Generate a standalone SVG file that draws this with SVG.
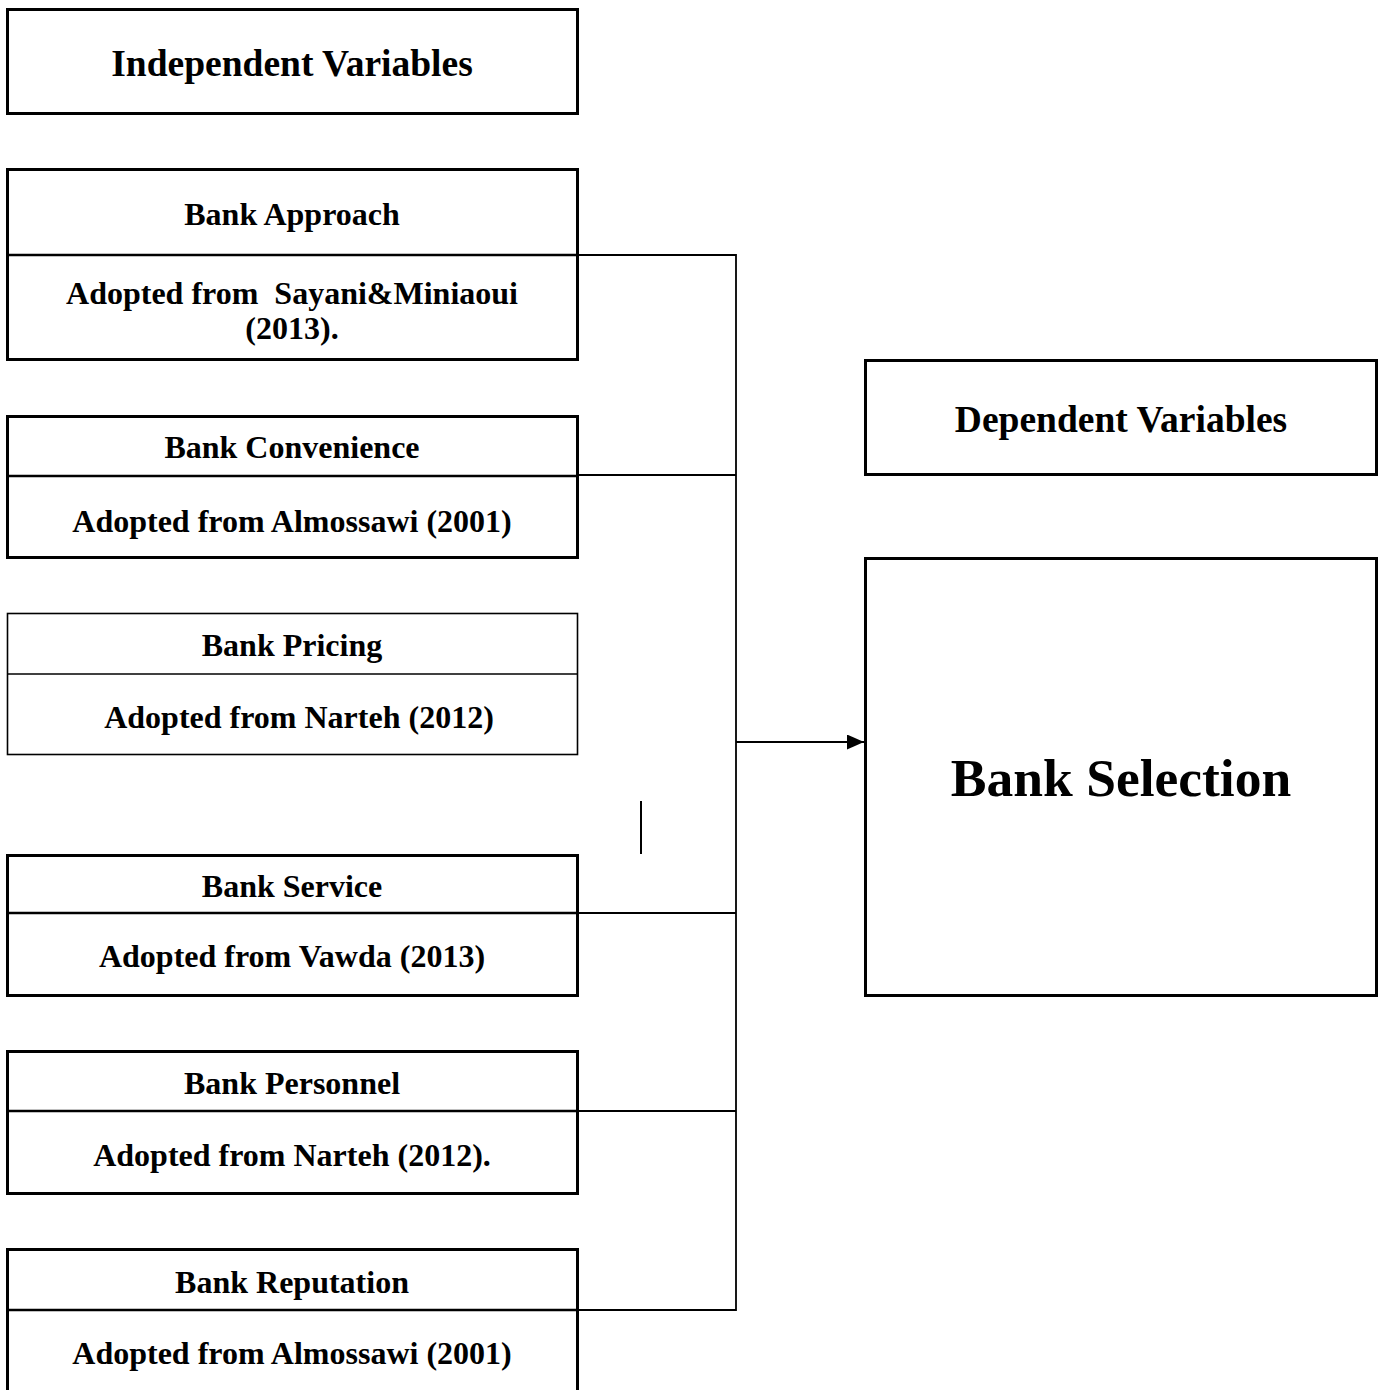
<svg xmlns="http://www.w3.org/2000/svg" width="1384" height="1390" viewBox="0 0 1384 1390">
<style>
text{font-family:"Liberation Serif","Times New Roman",serif;font-weight:bold;fill:#000;text-anchor:middle}
.box{fill:#fff;stroke:#000;stroke-width:3}
.thin{fill:#fff;stroke:#000;stroke-width:1.6}
.div{stroke:#000;stroke-width:2.5}
.conn{fill:none;stroke:#000;stroke-width:1.8}
.h{font-size:37.5px}
.s{font-size:32px}
.big{font-size:53.5px}
</style>
<defs>
<marker id="arr" viewBox="0 0 10 10" refX="10" refY="5" markerWidth="17" markerHeight="15" markerUnits="userSpaceOnUse" orient="auto" preserveAspectRatio="none"><path d="M0,0 L10,5 L0,10 z" fill="#000"/></marker>
</defs>
<rect width="1384" height="1390" fill="#fff"/>
<g id="connectors">
<path class="conn" d="M578,255 H736 V1310 H578"/>
<path class="conn" d="M578,475 H736"/>
<path class="conn" d="M578,913 H736"/>
<path class="conn" d="M578,1111 H736"/>
<path class="conn" d="M736,742 H864" marker-end="url(#arr)"/>
<line x1="641" y1="801" x2="641" y2="854" stroke="#000" stroke-width="2"/>
</g>
<g id="independent">
<rect class="box" x="7.5" y="9.5" width="570" height="104"/>
<text class="h" x="292" y="75.5">Independent Variables</text>
</g>
<g id="approach">
<rect class="box" x="7.5" y="169.5" width="570" height="190"/>
<line class="div" x1="7.5" y1="255" x2="577.5" y2="255"/>
<text class="s" x="292" y="225">Bank Approach</text>
<text class="s" x="292" y="304" xml:space="preserve">Adopted from  Sayani&amp;Miniaoui</text>
<text class="s" x="292" y="339">(2013).</text>
</g>
<g id="convenience">
<rect class="box" x="7.5" y="416.5" width="570" height="141"/>
<line class="div" x1="7.5" y1="476" x2="577.5" y2="476"/>
<text class="s" x="292" y="458">Bank Convenience</text>
<text class="s" x="292" y="532">Adopted from Almossawi (2001)</text>
</g>
<g id="pricing">
<rect class="thin" x="7.5" y="613.5" width="570" height="141"/>
<line x1="7.5" y1="674" x2="577.5" y2="674" stroke="#000" stroke-width="1.6"/>
<text class="s" x="292" y="656">Bank Pricing</text>
<text class="s" x="299" y="728">Adopted from Narteh (2012)</text>
</g>
<g id="service">
<rect class="box" x="7.5" y="855.5" width="570" height="140"/>
<line class="div" x1="7.5" y1="913" x2="577.5" y2="913"/>
<text class="s" x="292" y="897">Bank Service</text>
<text class="s" x="292" y="967">Adopted from Vawda (2013)</text>
</g>
<g id="personnel">
<rect class="box" x="7.5" y="1051.5" width="570" height="142"/>
<line class="div" x1="7.5" y1="1111" x2="577.5" y2="1111"/>
<text class="s" x="292" y="1094">Bank Personnel</text>
<text class="s" x="292" y="1166">Adopted from Narteh (2012).</text>
</g>
<g id="reputation">
<rect class="box" x="7.5" y="1249.5" width="570" height="145"/>
<line class="div" x1="7.5" y1="1310" x2="577.5" y2="1310"/>
<text class="s" x="292" y="1293">Bank Reputation</text>
<text class="s" x="292" y="1364">Adopted from Almossawi (2001)</text>
</g>
<g id="dependent">
<rect class="box" x="865.5" y="360.5" width="511" height="114"/>
<text class="h" x="1121" y="431.5">Dependent Variables</text>
</g>
<g id="selection">
<rect class="box" x="865.5" y="558.5" width="511" height="437"/>
<text class="big" x="1121" y="796">Bank Selection</text>
</g>
</svg>
